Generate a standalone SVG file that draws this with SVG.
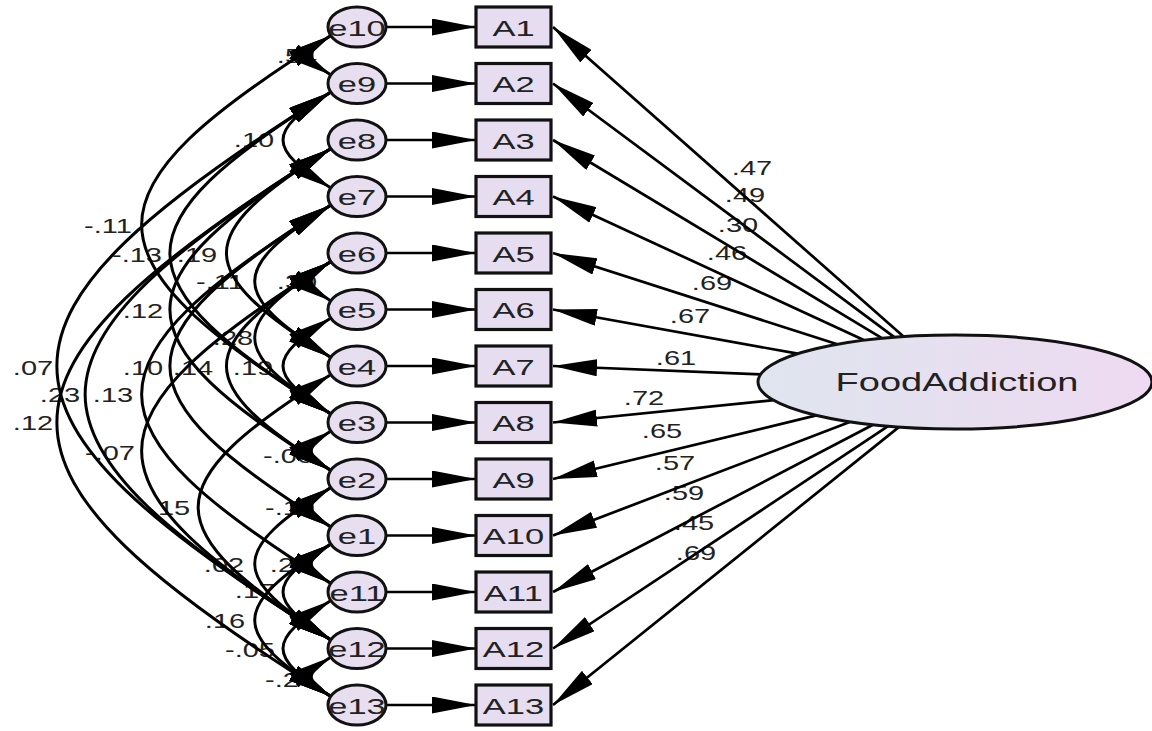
<svg xmlns="http://www.w3.org/2000/svg" width="1152" height="731" viewBox="0 0 1152 731">
  <defs>
    <linearGradient id="latentFill" x1="0" y1="0" x2="1" y2="0">
      <stop offset="0" stop-color="#dfe5ee"/>
      <stop offset="1" stop-color="#eedaf2"/>
    </linearGradient>
    <marker id="ah" viewBox="0 0 44 17" refX="44" refY="8.5" markerWidth="44" markerHeight="17" markerUnits="userSpaceOnUse" orient="auto-start-reverse">
      <path d="M0,0 L44,8.5 L0,17 z" fill="#000"/>
    </marker>
    <style>
      text { font-family: "Liberation Sans", Arial, sans-serif; fill: #222; }
      .num { font-size: 20px; text-anchor: middle; }
      .nd { font-size: 23px; text-anchor: middle; }
      .lat { font-size: 25px; text-anchor: middle; }
      .err { fill: #e7dff0; stroke: #111; stroke-width: 3; }
      .obs { fill: #e6ddf0; stroke: #111; stroke-width: 3.2; }
      .cov { fill: none; stroke: #000; stroke-width: 3; marker-start: url(#ah); marker-end: url(#ah); }
      .path { fill: none; stroke: #000; stroke-width: 2.7; marker-end: url(#ah); }
    </style>
  </defs>
  <rect width="1152" height="731" fill="#fff"/>

  <!-- coefficient labels (drawn first, lines pass over them) -->
  <g id="coefficients">
    <text class="num" transform="translate(297,63) scale(1.45,1)">.54</text>
    <text class="num" transform="translate(254,147) scale(1.45,1)">.10</text>
    <text class="num" transform="translate(108,233) scale(1.45,1)">-.11</text>
    <text class="num" transform="translate(137,262) scale(1.45,1)">-.13</text>
    <text class="num" transform="translate(197,262) scale(1.45,1)">.19</text>
    <text class="num" transform="translate(220,289) scale(1.45,1)">-.11</text>
    <text class="num" transform="translate(297,289) scale(1.45,1)">.30</text>
    <text class="num" transform="translate(143,318) scale(1.45,1)">.12</text>
    <text class="num" transform="translate(233,345) scale(1.45,1)">.28</text>
    <text class="num" transform="translate(143,375) scale(1.45,1)">.10</text>
    <text class="num" transform="translate(193,375) scale(1.45,1)">.14</text>
    <text class="num" transform="translate(253,375) scale(1.45,1)">.19</text>
    <text class="num" transform="translate(33,375) scale(1.45,1)">.07</text>
    <text class="num" transform="translate(60,402) scale(1.45,1)">.23</text>
    <text class="num" transform="translate(113,402) scale(1.45,1)">.13</text>
    <text class="num" transform="translate(33,430) scale(1.45,1)">.12</text>
    <text class="num" transform="translate(110,460) scale(1.45,1)">-.07</text>
    <text class="num" transform="translate(288,463) scale(1.45,1)">-.06</text>
    <text class="num" transform="translate(170,515) scale(1.45,1)">.15</text>
    <text class="num" transform="translate(290,515) scale(1.45,1)">-.10</text>
    <text class="num" transform="translate(224,572) scale(1.45,1)">.02</text>
    <text class="num" transform="translate(290,572) scale(1.45,1)">.25</text>
    <text class="num" transform="translate(255,598) scale(1.45,1)">.17</text>
    <text class="num" transform="translate(225,628) scale(1.45,1)">.16</text>
    <text class="num" transform="translate(250,657) scale(1.45,1)">-.05</text>
    <text class="num" transform="translate(290,687) scale(1.45,1)">-.24</text>

    <text class="num" transform="translate(752,175) scale(1.45,1)">.47</text>
    <text class="num" transform="translate(745,202) scale(1.45,1)">.49</text>
    <text class="num" transform="translate(738,232) scale(1.45,1)">.30</text>
    <text class="num" transform="translate(727,260) scale(1.45,1)">.46</text>
    <text class="num" transform="translate(712,290) scale(1.45,1)">.69</text>
    <text class="num" transform="translate(690,323) scale(1.45,1)">.67</text>
    <text class="num" transform="translate(676,365) scale(1.45,1)">.61</text>
    <text class="num" transform="translate(644,405) scale(1.45,1)">.72</text>
    <text class="num" transform="translate(662,438) scale(1.45,1)">.65</text>
    <text class="num" transform="translate(675,470) scale(1.45,1)">.57</text>
    <text class="num" transform="translate(684,500) scale(1.45,1)">.59</text>
    <text class="num" transform="translate(694,530) scale(1.45,1)">.45</text>
    <text class="num" transform="translate(696,560) scale(1.45,1)">.69</text>
  </g>

  <g id="connectors">
    <!-- error covariances -->
    <path class="cov" d="M331,35.5 C304.7,52 304.7,58.5 331,75"/>
    <path class="cov" d="M331,92 C267,132 267,148 331,188"/>
    <path class="cov" d="M331,35.5 C78.5,193.3 78.5,256.2 331,414"/>
    <path class="cov" d="M331,92 C116.2,226.3 116.2,279.7 331,414"/>
    <path class="cov" d="M331,148.5 C191.6,235.7 191.6,270.3 331,357.5"/>
    <path class="cov" d="M331,205 C229.3,268.6 229.3,293.9 331,357.5"/>
    <path class="cov" d="M331,148.5 C116.2,282.8 116.2,336.2 331,470.5"/>
    <path class="cov" d="M331,261.5 C229.3,325.1 229.3,350.4 331,414"/>
    <path class="cov" d="M331,205 C116.2,339.3 116.2,392.7 331,527"/>
    <path class="cov" d="M331,261.5 C191.6,348.7 191.6,383.3 331,470.5"/>
    <path class="cov" d="M331,318 C267,358 267,374 331,414"/>
    <path class="cov" d="M331,92 C-34.5,320.5 -34.5,411.5 331,640"/>
    <path class="cov" d="M331,148.5 C3.2,353.5 3.2,435 331,640"/>
    <path class="cov" d="M331,205 C78.5,362.8 78.5,425.7 331,583.5"/>
    <path class="cov" d="M331,148.5 C-34.5,377 -34.5,468 331,696.5"/>
    <path class="cov" d="M331,261.5 C78.5,419.3 78.5,482.2 331,640"/>
    <path class="cov" d="M331,431 C304.7,447.5 304.7,454 331,470.5"/>
    <path class="cov" d="M331,374.5 C153.9,485.2 153.9,529.3 331,640"/>
    <path class="cov" d="M331,487.5 C304.7,504 304.7,510.5 331,527"/>
    <path class="cov" d="M331,487.5 C229.3,551.1 229.3,576.4 331,640"/>
    <path class="cov" d="M331,544 C304.7,560.5 304.7,567 331,583.5"/>
    <path class="cov" d="M331,544 C267,584 267,600 331,640"/>
    <path class="cov" d="M331,544 C229.3,607.6 229.3,632.9 331,696.5"/>
    <path class="cov" d="M331,600.5 C267,640.5 267,656.5 331,696.5"/>
    <path class="cov" d="M331,657 C304.7,673.5 304.7,680 331,696.5"/>
    <path class="cov" d="M331,261.5 C304.7,278 304.7,284.5 331,301"/>

    <!-- error terms to indicators -->
    <path class="path" d="M386,27 H476"/>
    <path class="path" d="M386,83.5 H476"/>
    <path class="path" d="M386,140 H476"/>
    <path class="path" d="M386,196.5 H476"/>
    <path class="path" d="M386,253 H476"/>
    <path class="path" d="M386,309.5 H476"/>
    <path class="path" d="M386,366 H476"/>
    <path class="path" d="M386,422.5 H476"/>
    <path class="path" d="M386,479 H476"/>
    <path class="path" d="M386,535.5 H476"/>
    <path class="path" d="M386,592 H476"/>
    <path class="path" d="M386,648.5 H476"/>
    <path class="path" d="M386,705 H476"/>

    <!-- factor loadings -->
    <path class="path" d="M903.5,336.6 L553,27"/>
    <path class="path" d="M894.6,337.3 L553,83.5"/>
    <path class="path" d="M882.3,338.3 L553,140"/>
    <path class="path" d="M864.3,340.3 L553,196.5"/>
    <path class="path" d="M837.3,344.3 L553,253"/>
    <path class="path" d="M797.7,353.7 L553,309.5"/>
    <path class="path" d="M760.7,374.3 L553,366"/>
    <path class="path" d="M773.5,400.2 L553,422.5"/>
    <path class="path" d="M816.3,415.4 L553,479"/>
    <path class="path" d="M850.4,421.8 L553,535.5"/>
    <path class="path" d="M873,424.7 L553,592"/>
    <path class="path" d="M888.1,426.2 L553,648.5"/>
    <path class="path" d="M898.8,427.1 L553,705"/>
  </g>

  <!-- error terms -->
  <g id="e10"><ellipse class="err" cx="357" cy="27" rx="29" ry="20"/><text class="nd" transform="translate(357,35.5) scale(1.5,1)">e10</text></g>
  <g id="e9"><ellipse class="err" cx="357" cy="83.5" rx="29" ry="20"/><text class="nd" transform="translate(357,92) scale(1.5,1)">e9</text></g>
  <g id="e8"><ellipse class="err" cx="357" cy="140" rx="29" ry="20"/><text class="nd" transform="translate(357,148.5) scale(1.5,1)">e8</text></g>
  <g id="e7"><ellipse class="err" cx="357" cy="196.5" rx="29" ry="20"/><text class="nd" transform="translate(357,205) scale(1.5,1)">e7</text></g>
  <g id="e6"><ellipse class="err" cx="357" cy="253" rx="29" ry="20"/><text class="nd" transform="translate(357,261.5) scale(1.5,1)">e6</text></g>
  <g id="e5"><ellipse class="err" cx="357" cy="309.5" rx="29" ry="20"/><text class="nd" transform="translate(357,318) scale(1.5,1)">e5</text></g>
  <g id="e4"><ellipse class="err" cx="357" cy="366" rx="29" ry="20"/><text class="nd" transform="translate(357,374.5) scale(1.5,1)">e4</text></g>
  <g id="e3"><ellipse class="err" cx="357" cy="422.5" rx="29" ry="20"/><text class="nd" transform="translate(357,431) scale(1.5,1)">e3</text></g>
  <g id="e2"><ellipse class="err" cx="357" cy="479" rx="29" ry="20"/><text class="nd" transform="translate(357,487.5) scale(1.5,1)">e2</text></g>
  <g id="e1"><ellipse class="err" cx="357" cy="535.5" rx="29" ry="20"/><text class="nd" transform="translate(357,544) scale(1.5,1)">e1</text></g>
  <g id="e11"><ellipse class="err" cx="357" cy="592" rx="29" ry="20"/><text class="nd" transform="translate(357,600.5) scale(1.5,1)">e11</text></g>
  <g id="e12"><ellipse class="err" cx="357" cy="648.5" rx="29" ry="20"/><text class="nd" transform="translate(357,657) scale(1.5,1)">e12</text></g>
  <g id="e13"><ellipse class="err" cx="357" cy="705" rx="29" ry="20"/><text class="nd" transform="translate(357,713.5) scale(1.5,1)">e13</text></g>

  <!-- observed indicators -->
  <g id="A1"><rect class="obs" x="476" y="7" width="75" height="40"/><text class="nd" transform="translate(513.5,35.5) scale(1.5,1)">A1</text></g>
  <g id="A2"><rect class="obs" x="476" y="63.5" width="75" height="40"/><text class="nd" transform="translate(513.5,92) scale(1.5,1)">A2</text></g>
  <g id="A3"><rect class="obs" x="476" y="120" width="75" height="40"/><text class="nd" transform="translate(513.5,148.5) scale(1.5,1)">A3</text></g>
  <g id="A4"><rect class="obs" x="476" y="176.5" width="75" height="40"/><text class="nd" transform="translate(513.5,205) scale(1.5,1)">A4</text></g>
  <g id="A5"><rect class="obs" x="476" y="233" width="75" height="40"/><text class="nd" transform="translate(513.5,261.5) scale(1.5,1)">A5</text></g>
  <g id="A6"><rect class="obs" x="476" y="289.5" width="75" height="40"/><text class="nd" transform="translate(513.5,318) scale(1.5,1)">A6</text></g>
  <g id="A7"><rect class="obs" x="476" y="346" width="75" height="40"/><text class="nd" transform="translate(513.5,374.5) scale(1.5,1)">A7</text></g>
  <g id="A8"><rect class="obs" x="476" y="402.5" width="75" height="40"/><text class="nd" transform="translate(513.5,431) scale(1.5,1)">A8</text></g>
  <g id="A9"><rect class="obs" x="476" y="459" width="75" height="40"/><text class="nd" transform="translate(513.5,487.5) scale(1.5,1)">A9</text></g>
  <g id="A10"><rect class="obs" x="476" y="515.5" width="75" height="40"/><text class="nd" transform="translate(513.5,544) scale(1.5,1)">A10</text></g>
  <g id="A11"><rect class="obs" x="476" y="572" width="75" height="40"/><text class="nd" transform="translate(513.5,600.5) scale(1.5,1)">A11</text></g>
  <g id="A12"><rect class="obs" x="476" y="628.5" width="75" height="40"/><text class="nd" transform="translate(513.5,657) scale(1.5,1)">A12</text></g>
  <g id="A13"><rect class="obs" x="476" y="685" width="75" height="40"/><text class="nd" transform="translate(513.5,713.5) scale(1.5,1)">A13</text></g>

  <!-- latent factor -->
  <g id="FoodAddiction">
    <ellipse cx="955" cy="382" rx="197" ry="47" fill="url(#latentFill)" stroke="#111" stroke-width="3"/>
    <text class="lat" transform="translate(957,391) scale(1.52,1)">FoodAddiction</text>
  </g>
</svg>
